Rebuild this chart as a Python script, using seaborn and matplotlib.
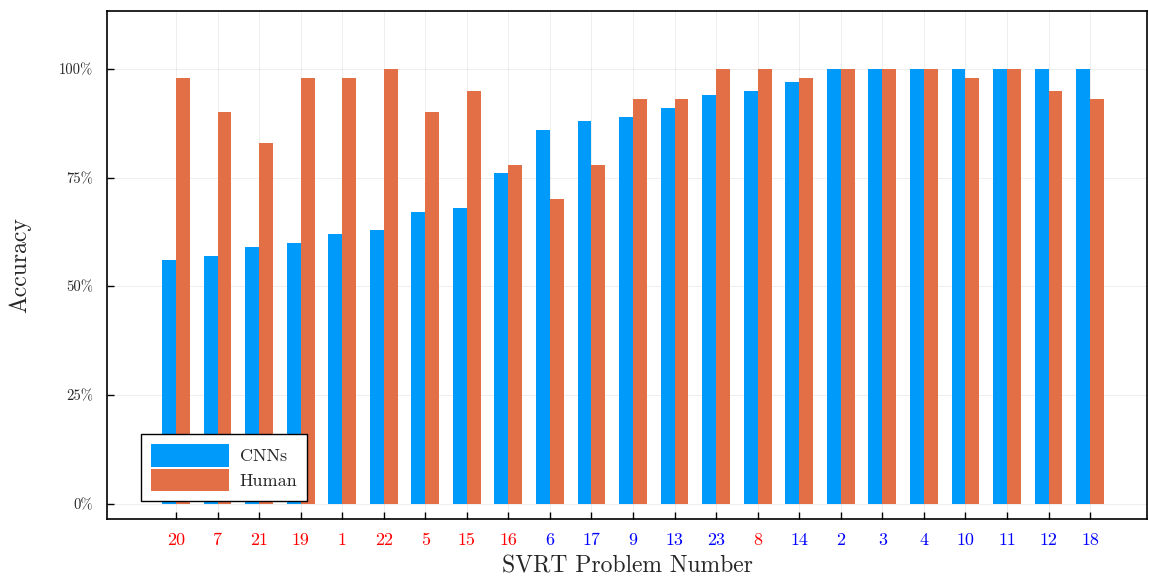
import matplotlib
matplotlib.use("Agg")
import matplotlib.pyplot as plt
import seaborn as sns
import pandas as pd
from matplotlib.ticker import FixedLocator

# SVRT problems, ordered by CNN accuracy
problems = ["20", "7", "21", "19", "1", "22", "5", "15", "16", "6", "17", "9",
            "13", "23", "8", "14", "2", "3", "4", "10", "11", "12", "18"]
cnn_acc = [0.56, 0.57, 0.59, 0.60, 0.62, 0.63, 0.67, 0.68, 0.76, 0.86, 0.88, 0.89,
           0.91, 0.94, 0.95, 0.97, 1.00, 1.00, 1.00, 1.00, 1.00, 1.00, 1.00]
human_acc = [0.98, 0.90, 0.83, 0.98, 0.98, 1.00, 0.90, 0.95, 0.78, 0.70, 0.78, 0.93,
             0.93, 1.00, 1.00, 0.98, 1.00, 1.00, 1.00, 0.98, 1.00, 0.95, 0.93]
# problem type: same-different (red) vs spatial relation (blue)
same_different = ["20", "7", "21", "19", "1", "22", "5", "15", "16", "8"]
y_ticks = [0.0, 0.25, 0.5, 0.75, 1.0]
y_tick_labels = ["0%", "25%", "50%", "75%", "100%"]

df = pd.DataFrame({
    "problem": problems * 2,
    "accuracy": cnn_acc + human_acc,
    "group": ["CNNs"] * len(problems) + ["Human"] * len(problems),
})

sns.set_style("white")
plt.rcParams["font.family"] = ["cmr10", "DejaVu Serif"]
plt.rcParams["mathtext.fontset"] = "cm"
plt.rcParams["axes.unicode_minus"] = False

fig = plt.figure(figsize=(11.49, 5.77), dpi=100)
ax = fig.add_axes([107 / 1149, 1 - 519 / 577, (1147 - 107) / 1149, (519 - 11) / 577])

sns.barplot(data=df, x="problem", y="accuracy", hue="group", order=problems,
            palette={"CNNs": "#009AFA", "Human": "#E26F46"},
            width=0.67, gap=0, saturation=1, ax=ax, linewidth=0, errorbar=None)

ax.set_xlim(-1.66, 23.37)
ax.set_ylim(-0.0345, 1.133)
ax.yaxis.set_major_locator(FixedLocator(y_ticks))
ax.set_yticklabels(y_tick_labels, fontsize=10.5)
ax.tick_params(axis="x", bottom=True, labelsize=13, direction="in", length=5,
               width=1, pad=10, color="black")
ax.tick_params(axis="y", left=True, direction="in", length=5, width=1, pad=10,
               color="black")
for lbl in ax.get_xticklabels():
    lbl.set_color("#ff0000" if lbl.get_text() in same_different else "#0000ff")

ax.grid(True, color="#000000", alpha=0.08, linewidth=0.6)
ax.set_axisbelow(True)
for s in ax.spines.values():
    s.set_visible(True)
    s.set_color("black")
    s.set_linewidth(1.2)

ax.set_xlabel("SVRT Problem Number", fontsize=17, labelpad=5)
ax.set_ylabel("Accuracy", fontsize=17, labelpad=20)

leg = ax.legend(loc="lower left", bbox_to_anchor=(0.033, 0.035), fontsize=13,
                frameon=True, fancybox=False, edgecolor="black", framealpha=1,
                handlelength=4.3, handleheight=1.55, handletextpad=0.6,
                labelspacing=0.1, borderpad=0.55, borderaxespad=0, title=None)
leg.get_frame().set_linewidth(1.0)

fig.savefig("out.png", dpi=100)
